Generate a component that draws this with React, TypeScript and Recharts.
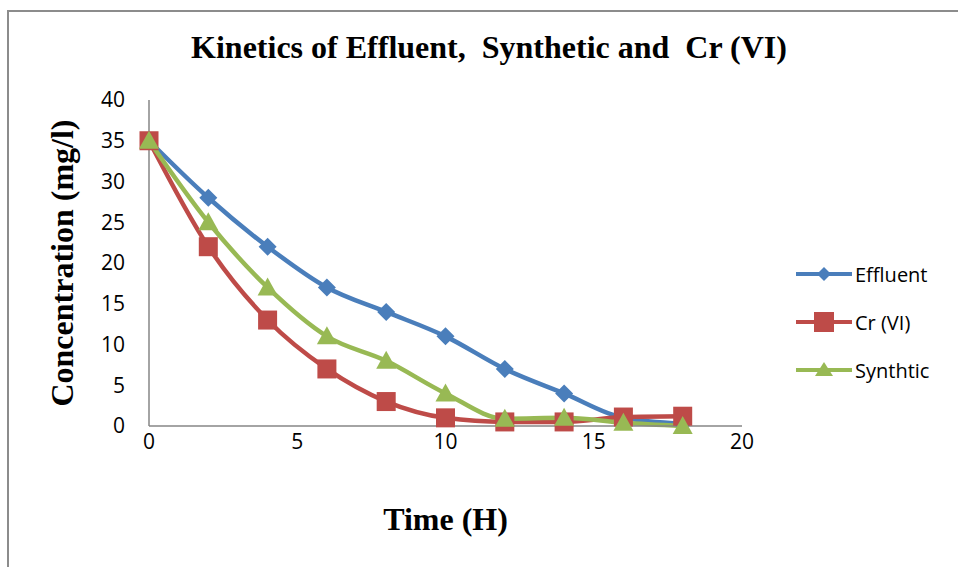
import { Label, Line, LineChart, XAxis, YAxis } from "recharts";

// hours since start
const hours = [0, 2, 4, 6, 8, 10, 12, 14, 16, 18];
// concentration (mg/l) for each run
const effluent = [35, 28, 22, 17, 14, 11, 7, 4, 1, 0.3];
const chromium = [35, 22, 13, 7, 3, 1, 0.5, 0.5, 1.1, 1.2];
const synthetic = [35, 25, 17, 11, 8, 4, 0.9, 1, 0.4, 0];

const xTicks = [0, 5, 10, 15, 20];
const yTicks = [0, 5, 10, 15, 20, 25, 30, 35, 40];

const rows = hours.map((h, i) => ({
  h,
  effluent: effluent[i],
  chromium: chromium[i],
  synthetic: synthetic[i],
}));

const BLUE = "#4a7ebb";
const RED = "#be4b48";
const GREEN = "#98b954";

const series = [
  { key: "effluent", name: "Effluent", color: BLUE, shape: "diamond" },
  { key: "chromium", name: "Cr (VI)", color: RED, shape: "square" },
  { key: "synthetic", name: "Synthtic", color: GREEN, shape: "triangle" },
];

const Marker = ({ cx, cy, shape, color }: any) => {
  if (shape === "diamond") {
    const r = 9;
    return (
      <path
        d={`M${cx},${cy - r}L${cx + r},${cy}L${cx},${cy + r}L${cx - r},${cy}Z`}
        fill={color}
      />
    );
  }
  if (shape === "square") {
    const s = 9.5;
    return <rect x={cx - s} y={cy - s} width={s * 2} height={s * 2} fill={color} />;
  }
  return (
    <path
      d={`M${cx},${cy - 10}L${cx + 10},${cy + 8}L${cx - 10},${cy + 8}Z`}
      fill={color}
    />
  );
};

const makeDot = (shape: string, color: string) => (props: any) => {
  const { cx, cy, index } = props;
  if (cx == null || cy == null) return <g key={index} />;
  return (
    <g key={`${shape}-${index}`}>
      <Marker cx={cx} cy={cy} shape={shape} color={color} />
    </g>
  );
};

const LegendBox = () => (
  <div
    style={{
      position: "absolute",
      left: 796,
      top: 250,
      fontFamily: "'Open Sans', sans-serif",
      fontSize: 20,
      color: "#000",
    }}
  >
    {series.map((s) => (
      <div key={s.key} style={{ display: "flex", alignItems: "center", height: 48 }}>
        <svg width={56} height={22} style={{ marginRight: 3 }}>
          <line x1={0} y1={11} x2={56} y2={11} stroke={s.color} strokeWidth={4} />
          {s.shape === "diamond" && <path d="M28,4L35,11L28,18L21,11Z" fill={s.color} />}
          {s.shape === "square" && <rect x={18} y={1} width={20} height={20} fill={s.color} />}
          {s.shape === "triangle" && <path d="M28,3L37,17L19,17Z" fill={s.color} />}
        </svg>
        <span>{s.name}</span>
      </div>
    ))}
  </div>
);

const tickStyle = { fontFamily: "'Open Sans', sans-serif", fontSize: 21, fill: "#000" };
const serifBold = {
  fontFamily: "'Liberation Serif', serif",
  fontWeight: "bold",
  fontSize: 32,
  fill: "#000",
};

const renderYLabel = (props: any) => {
  const { viewBox } = props;
  const cx = 62;
  const cy = viewBox.y + viewBox.height / 2;
  return (
    <text
      x={cx}
      y={cy}
      transform={`rotate(-90 ${cx} ${cy})`}
      textAnchor="middle"
      dominantBaseline="central"
      style={serifBold}
    >
      Concentration  (mg/l)
    </text>
  );
};

export default function App() {
  return (
    <div
      style={{
        position: "absolute",
        left: 0,
        top: 0,
        width: 958,
        height: 567,
        overflow: "hidden",
        background: "#fff",
      }}
    >
      <div
        style={{
          position: "absolute",
          left: 7,
          top: 10,
          width: 960,
          height: 570,
          borderLeft: "2px solid #8c8c8c",
          borderTop: "2px solid #8c8c8c",
        }}
      />
      <div
        style={{
          position: "absolute",
          left: 0,
          top: 29,
          width: 978,
          textAlign: "center",
          fontFamily: "'Liberation Serif', serif",
          fontWeight: "bold",
          fontSize: 32,
          whiteSpace: "pre",
        }}
      >
        {"Kinetics of Effluent,  Synthetic and  Cr (VI)"}
      </div>
      <LineChart
        width={958}
        height={567}
        data={rows}
        margin={{ top: 100, right: 216, left: 0, bottom: 0 }}
        style={{ position: "absolute", left: 0, top: 0 }}
      >
        <XAxis
          dataKey="h"
          type="number"
          domain={[0, 20]}
          ticks={xTicks}
          height={141}
          axisLine={{ stroke: "#868686", strokeWidth: 1.5 }}
          tickLine={false}
          tickSize={0}
          tickMargin={8}
          tick={tickStyle}
        >
          <Label value="Time (H)" position="insideBottom" offset={37} style={serifBold} />
        </XAxis>
        <YAxis
          type="number"
          domain={[0, 40]}
          ticks={yTicks}
          width={149}
          axisLine={{ stroke: "#868686", strokeWidth: 1.5 }}
          tickLine={false}
          tickSize={0}
          tickMargin={24}
          tick={tickStyle}
        >
          <Label content={renderYLabel} />
        </YAxis>
        {series.map((s) => (
          <Line
            key={s.key}
            dataKey={s.key}
            name={s.name}
            type="monotone"
            stroke={s.color}
            strokeWidth={4.5}
            dot={makeDot(s.shape, s.color)}
            activeDot={false}
            isAnimationActive={false}
          />
        ))}
      </LineChart>
      <LegendBox />
    </div>
  );
}
